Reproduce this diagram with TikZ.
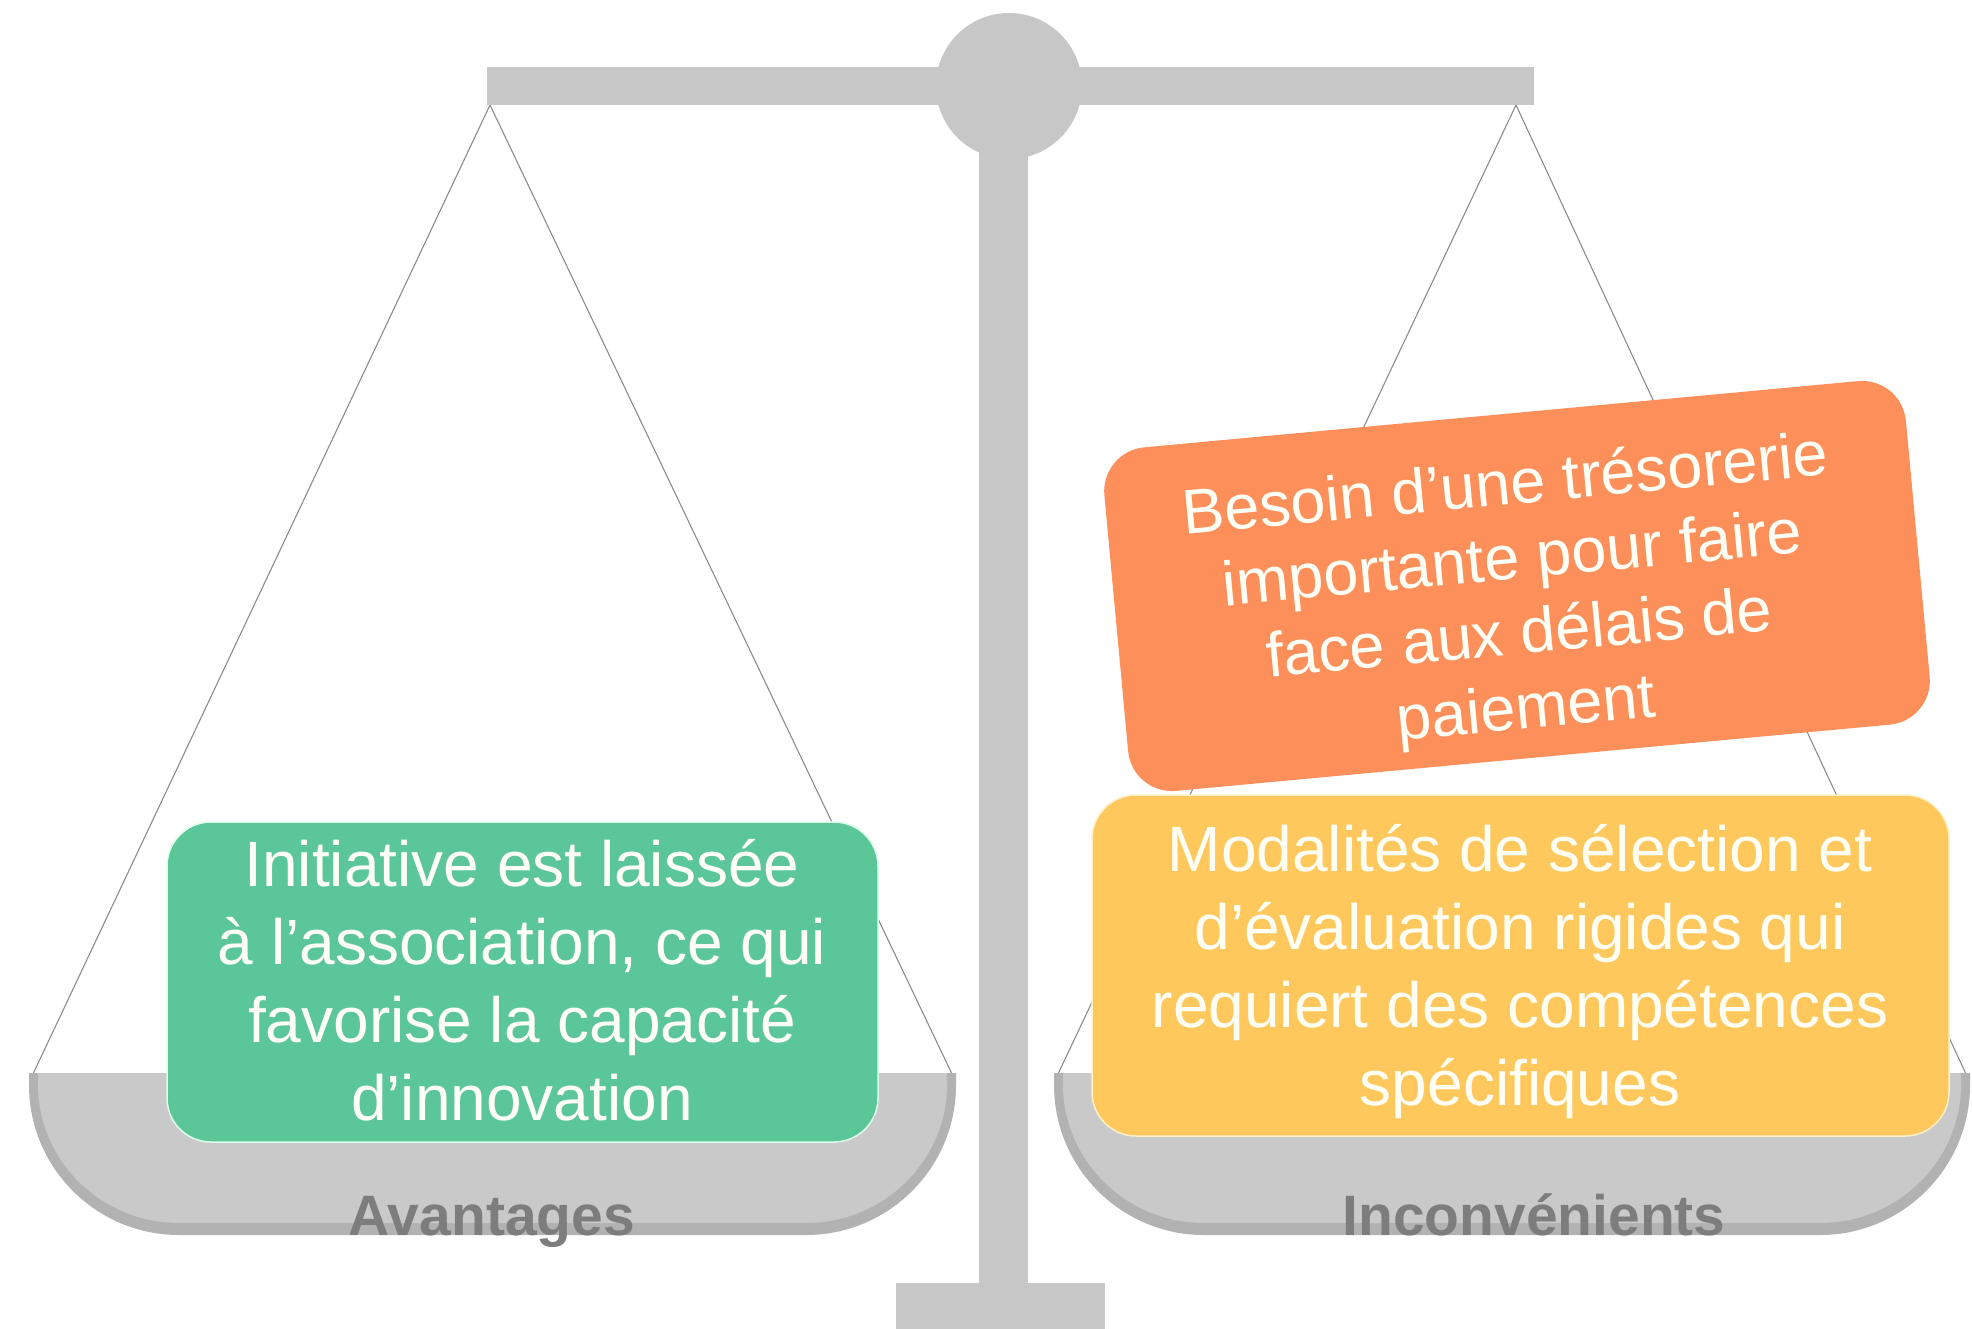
\documentclass[tikz,border=0pt]{standalone}
\usepackage{fontspec}
\setmainfont{Liberation Sans}
\definecolor{structgray}{RGB}{199,199,199}
\definecolor{pandark}{RGB}{178,178,178}
\definecolor{panlight}{RGB}{201,201,201}
\definecolor{stringgray}{RGB}{140,140,140}
\definecolor{boxgreen}{RGB}{91,198,152}
\definecolor{boxyellow}{RGB}{255,200,92}
\definecolor{boxorange}{RGB}{253,143,90}
\definecolor{labelgray}{RGB}{125,125,125}
\definecolor{textwhite}{RGB}{255,255,246}
\newcommand\mypan[2]{%
  \fill[pandark] (#1,1073) -- (#1,1085) .. controls (#1,1167.8) and ({#1+67.2},1235) .. ({#1+150},1235)
    -- ({#2-150},1235) .. controls ({#2-67.2},1235) and (#2,1167.8) .. (#2,1085) -- (#2,1073) -- cycle;
  \fill[panlight] ({#1+9},1073) -- ({#1+9},1085) .. controls ({#1+9},1160) and ({#1+72},1223) .. ({#1+150},1223)
    -- ({#2-150},1223) .. controls ({#2-72},1223) and ({#2-9},1160) .. ({#2-9},1085) -- ({#2-9},1073) -- cycle;
}
\begin{document}
\begin{tikzpicture}[x=1pt,y=-1pt,
  stringline/.style={draw=stringgray, line width=1.1pt},
  boxshape/.style={rounded corners=44pt, draw=white, line width=1.5pt, inner sep=0pt},
  boxtext/.style={text=textwhite, align=center, font=\fontsize{64}{78}\selectfont, inner sep=0pt},
  panlabel/.style={text=labelgray, font=\bfseries\fontsize{57}{60}\selectfont, inner sep=0pt, anchor=base}]
\useasboundingbox (0,0) rectangle (1972,1329);
\fill[white] (0,0) rectangle (1972,1329);

% string coordinates
\coordinate (LA) at (490,105);
\coordinate (LL) at (33,1074);
\coordinate (LR) at (952,1074);
\coordinate (RA) at (1516,105);
\coordinate (RL) at (1058,1074);
\coordinate (RR) at (1966,1074);
\draw[stringline] (LL) -- (LA) -- (LR);
\draw[stringline] (RL) -- (RA) -- (RR);

% pans
\mypan{29}{956}
\mypan{1054}{1970}

% stand
\fill[structgray] (487,67) rectangle (1534,105);
\fill[structgray] (979,86) rectangle (1028,1283);
\fill[structgray] (896,1283) rectangle (1105,1329);
\fill[structgray] (1009,86) circle[radius=73];

% labels
\node[panlabel] (avantages) at (492,1235) {Avantages};
\node[panlabel] (inconv) at (1534,1235) {Inconvénients};

% boxes
\node[boxshape, fill=boxorange, draw=none, minimum width=805pt, minimum height=345pt, rotate=5.3] (orange) at (1517,586) {};
\node[boxtext, font=\fontsize{63}{75}\selectfont, rotate=5.3] (orangetext) at (1516,600)
  {Besoin d’une trésorerie\\importante pour faire\\face aux délais de\\paiement};

\node[boxshape, fill=boxyellow, draw={rgb,255:red,255;green,240;blue,200}, minimum width=857pt, minimum height=341pt] (yellow) at (1520.5,965.5) {};
\node[boxtext] (yellowtext) at (1520,972)
  {Modalités de sélection et\\d’évaluation rigides qui\\requiert des compétences\\spécifiques};

\node[boxshape, fill=boxgreen, draw={rgb,255:red,220;green,255;blue,235}, minimum width=711pt, minimum height=320pt] (green) at (522.5,982) {};
\node[boxtext] (greentext) at (522,980.5)
  {Initiative est laissée\\à l’association, ce qui\\favorise la capacité\\d’innovation};
\end{tikzpicture}
\end{document}
